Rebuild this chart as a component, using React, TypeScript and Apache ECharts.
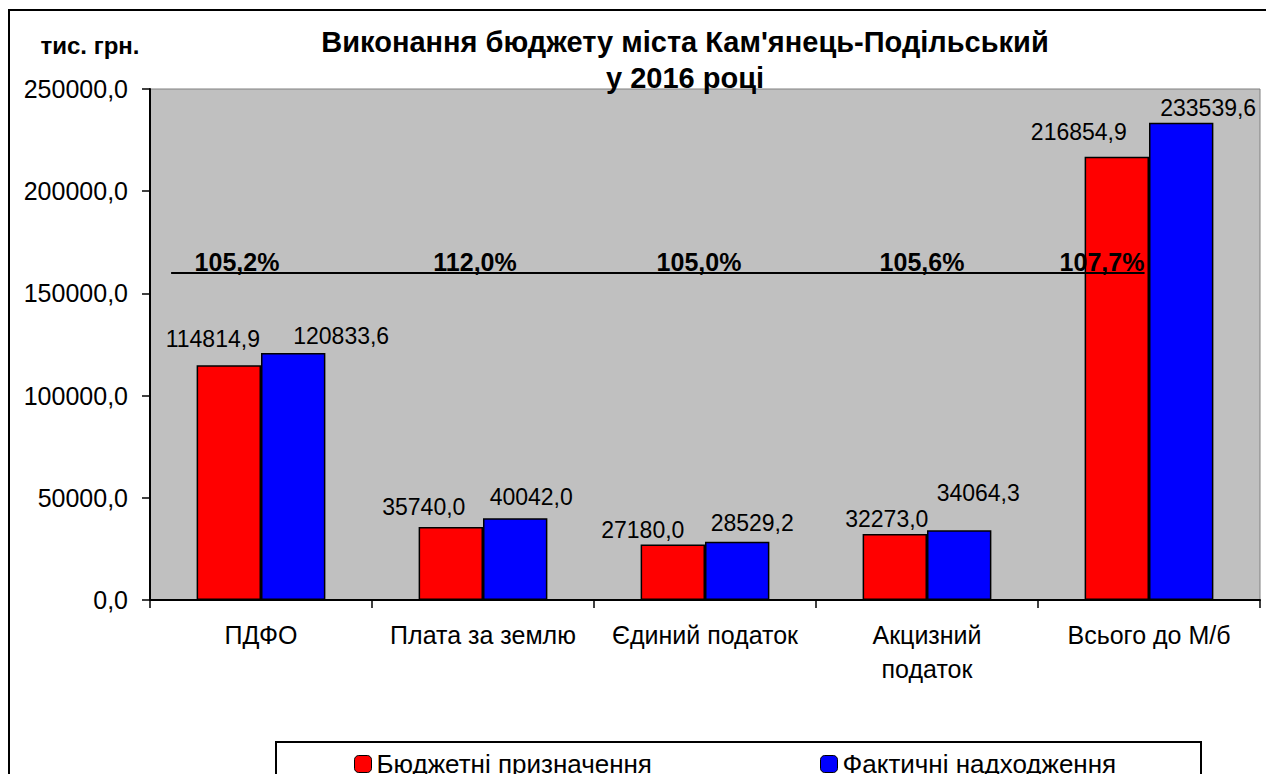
import React, { useEffect, useRef } from "react";
import * as echarts from "echarts";

const categories = ["ПДФО", "Плата за землю", "Єдиний податок", "Акцизний\nподаток", "Всього до М/б"];
const budgetValues = [114814.9, 35740.0, 27180.0, 32273.0, 216854.9];
const actualValues = [120833.6, 40042.0, 28529.2, 34064.3, 233539.6];
const seriesNames = ["Бюджетні призначення", "Фактичні надходження"];
const yTicks = [0, 50000, 100000, 150000, 200000, 250000];
const percentLevel = 160000;
const titleText = "Виконання бюджету міста Кам'янець-Подільський\nу 2016 році";
const unitText = "тис. грн.";

// label placement styles (pixel offsets)
const budgetLabelOffsets = [[-16, -15], [-27, -9], [-30, -3], [-8, -4], [-38, -14]];
const actualLabelOffsets = [[48, -6], [16, -10], [15, -8], [19, -26], [27, -4]];
const percentLabelOffsets = [-24, -8, -6, -5, -47];
const refLineSpan = [0.095, 4.48];

const fmt = (v: number) => v.toFixed(1).replace(".", ",");

export default function App() {
  const ref = useRef<HTMLDivElement>(null);
  useEffect(() => {
    document.body.style.margin = "0";
    const chart = echarts.init(ref.current!, null, { renderer: "svg" });
    const font = "Liberation Sans, Arial, sans-serif";
    const labelStyle = { fontFamily: font, fontSize: 23, color: "#000", lineHeight: 22 };
    const percents = actualValues.map((a, i) => (a / budgetValues[i]) * 100);
    const legendText = { fontFamily: font, fontSize: 26, color: "#000", lineHeight: 20 };
    chart.setOption({
      animation: false,
      backgroundColor: "#fff",
      textStyle: { fontFamily: font },
      grid: {
        left: 150, top: 89, right: 6, bottom: 174,
        show: true, backgroundColor: "#C0C0C0", borderColor: "#808080", borderWidth: 1,
        containLabel: false,
      },
      legend: [
        {
          data: [seriesNames[0]], left: 354, top: 751, padding: 0, itemWidth: 17, itemHeight: 17,
          itemGap: 6, textStyle: legendText,
          itemStyle: { borderColor: "#000", borderWidth: 1 },
        },
        {
          data: [seriesNames[1]], left: 820, top: 751, padding: 0, itemWidth: 17, itemHeight: 17,
          itemGap: 6, textStyle: legendText,
          itemStyle: { borderColor: "#000", borderWidth: 1 },
        },
      ],
      xAxis: [
        {
          type: "category", data: categories, boundaryGap: true,
          axisLine: { lineStyle: { color: "#000", width: 2 } },
          axisTick: { show: true, length: 8, interval: 0, lineStyle: { color: "#000", width: 1.5 } },
          axisLabel: { interval: 0, margin: 18, fontFamily: font, fontSize: 25, color: "#000", lineHeight: 34 },
          splitLine: { show: false },
        },
        { type: "value", min: 0, max: 5, show: false },
      ],
      yAxis: {
        type: "value", min: yTicks[0], max: yTicks[yTicks.length - 1], interval: yTicks[1] - yTicks[0],
        axisLine: { show: true, lineStyle: { color: "#000", width: 2 } },
        axisTick: { show: true, length: 8, lineStyle: { color: "#000", width: 1.5 } },
        axisLabel: { margin: 22, fontFamily: font, fontSize: 25, color: "#000", formatter: (v: number) => fmt(v) },
        splitLine: { show: false },
      },
      series: [
        {
          name: seriesNames[0], type: "bar", barGap: "0%", barCategoryGap: "42%",
          itemStyle: { color: "#FF0000", borderColor: "#000", borderWidth: 1.5 },
          label: { show: true, position: "top", distance: 0, ...labelStyle, formatter: (p: any) => fmt(p.value) },
          data: budgetValues.map((v, i) => ({ value: v, label: { offset: budgetLabelOffsets[i] } })),
          z: 2,
        },
        {
          name: seriesNames[1], type: "bar", barGap: "0%", barCategoryGap: "42%",
          itemStyle: { color: "#0000FF", borderColor: "#000", borderWidth: 1.5 },
          label: { show: true, position: "top", distance: 0, ...labelStyle, formatter: (p: any) => fmt(p.value) },
          data: actualValues.map((v, i) => ({ value: v, label: { offset: actualLabelOffsets[i] } })),
          z: 2,
        },
        {
          name: "line", type: "line", xAxisIndex: 1, symbol: "none", z: 5,
          lineStyle: { color: "#000", width: 2 },
          data: refLineSpan.map((x) => [x, percentLevel]),
          silent: true,
        },
        {
          name: "pct", type: "scatter", symbolSize: 0, z: 6, silent: true,
          itemStyle: { opacity: 1 },
          label: {
            show: true, position: "top", distance: 0,
            fontFamily: font, fontSize: 25, fontWeight: "bold", color: "#000", lineHeight: 22,
            formatter: (p: any) => fmt(percents[p.dataIndex]) + "%",
          },
          data: categories.map((c, i) => ({ value: [c, percentLevel], label: { offset: [percentLabelOffsets[i], 0] } })),
        },
      ],
      graphic: [
        {
          type: "rect", shape: { x: 9, y: 10, width: 1400, height: 900 },
          style: { fill: "none", stroke: "#000", lineWidth: 2 }, silent: true, z: 0,
        },
        {
          type: "rect", shape: { x: 276, y: 742, width: 925, height: 60 },
          style: { fill: "#fff", stroke: "#000", lineWidth: 2 }, silent: true, z: -1,
        },
        {
          type: "text", x: 685, y: 60,
          style: {
            text: titleText, font: `bold 29px ${font}`, fill: "#000",
            textAlign: "center", textVerticalAlign: "middle", lineHeight: 36,
          },
        },
        {
          type: "text", x: 90, y: 45,
          style: { text: unitText, font: `bold 24px ${font}`, fill: "#000", textAlign: "center", textVerticalAlign: "middle" },
        },
      ],
    });
    return () => chart.dispose();
  }, []);
  return <div ref={ref} style={{ width: 1266, height: 774 }} />;
}
